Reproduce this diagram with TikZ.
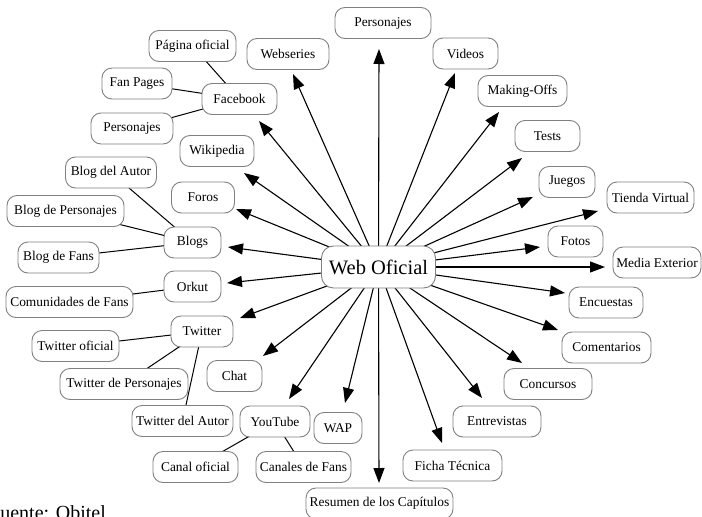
\documentclass[tikz,border=0pt]{standalone}
\usepackage{fontspec}
\setmainfont{Liberation Serif}
\usetikzlibrary{arrows.meta}
\pgfdeclarelayer{edges}
\pgfsetlayers{edges,main}
\tikzset{
  box/.style={draw=black!50, line width=0.9pt, fill=white, rounded corners=10pt,
    minimum height=31pt, inner sep=0pt, font=\fontsize{13.4}{16}\selectfont},
  bigbox/.style={box, minimum height=42pt, rounded corners=12pt, font=\fontsize{20.5}{24}\selectfont},
  arr/.style={line width=1.1pt, -{Triangle[length=15pt,width=11pt]}},
  sub/.style={line width=1pt}
}
\begin{document}
\begin{tikzpicture}[x=1pt,y=-1pt]
\useasboundingbox (0,0) rectangle (702,517);
\clip (0,0) rectangle (702,517);
% nodes
\node[bigbox, minimum width=114pt] (web) at (378.5,267) {Web Oficial};
\node[box, minimum width=96pt] (pers1) at (383,23) {Personajes};
\node[box, minimum width=82pt] (webs) at (288,54) {Webseries};
\node[box, minimum width=65pt] (videos) at (465.5,53.5) {Videos};
\node[box, minimum width=87pt] (pagina) at (192.5,46) {Página oficial};
\node[box, minimum width=70pt] (fanp) at (137,83.5) {Fan Pages};
\node[box, minimum width=75pt] (fb) at (239.5,99) {Facebook};
\node[box, minimum width=82pt] (pers2) at (132,128.5) {Personajes};
\node[box, minimum width=89pt] (making) at (522.5,91) {Making-Offs};
\node[box, minimum width=65pt] (tests) at (547.5,136) {Tests};
\node[box, minimum width=74pt] (wiki) at (217,151) {Wikipedia};
\node[box, minimum width=91pt] (blogautor) at (111,172.5) {Blog del Autor};
\node[box, minimum width=56pt] (juegos) at (567,182) {Juegos};
\node[box, minimum width=87pt] (tienda) at (650.5,197.5) {Tienda Virtual};
\node[box, minimum width=63pt] (foros) at (203,197.5) {Foros};
\node[box, minimum width=117pt] (blogpers) at (65.5,211) {Blog de Personajes};
\node[box, minimum width=57pt] (blogs) at (192.5,242.5) {Blogs};
\node[box, minimum width=81pt] (blogfans) at (58.5,257.5) {Blog de Fans};
\node[box, minimum width=55pt] (fotos) at (575.5,241.5) {Fotos};
\node[box, minimum width=88pt] (media) at (657,262.5) {Media Exterior};
\node[box, minimum width=57pt] (orkut) at (192.5,286.5) {Orkut};
\node[box, minimum width=127pt] (comun) at (69.5,302) {Comunidades de Fans};
\node[box, minimum width=74pt] (encuestas) at (606,302.5) {Encuestas};
\node[box, minimum width=62pt] (twitter) at (202,331.5) {Twitter};
\node[box, minimum width=89pt] (comentarios) at (606.5,347.5) {Comentarios};
\node[box, minimum width=87pt] (twof) at (75.5,346) {Twitter oficial};
\node[box, minimum width=55pt] (chat) at (234.5,376) {Chat};
\node[box, minimum width=128pt] (twpers) at (124,384) {Twitter de Personajes};
\node[box, minimum width=88pt] (concursos) at (548,384) {Concursos};
\node[box, minimum width=101pt] (twautor) at (182.5,421) {Twitter del Autor};
\node[box, minimum width=70pt] (youtube) at (275,421.5) {YouTube};
\node[box, minimum width=48pt] (wap) at (338,428) {WAP};
\node[box, minimum width=88pt] (entrevistas) at (497,421.5) {Entrevistas};
\node[box, minimum width=85pt] (canal) at (195.5,467) {Canal oficial};
\node[box, minimum width=95pt] (canales) at (303.5,467) {Canales de Fans};
\node[box, minimum width=99pt] (ficha) at (452.5,465.5) {Ficha Técnica};
\node[box, minimum width=147pt] (resumen) at (379.5,503.5) {Resumen de los Capítulos};
\node[anchor=base west, inner sep=0pt, font=\fontsize{20}{24}\selectfont] (fuente) at (-11,519) {Fuente: Obitel};
% arrow tips
\coordinate (a1) at (379,49);
\coordinate (a2) at (293,74);
\coordinate (a3) at (455,73);
\coordinate (a4) at (259,121);
\coordinate (a5) at (499,112);
\coordinate (a6) at (522,158);
\coordinate (a7) at (244,173);
\coordinate (a8) at (533,197);
\coordinate (a9) at (598,211);
\coordinate (a10) at (236,209);
\coordinate (a11) at (228,247);
\coordinate (a12) at (540,247);
\coordinate (a13) at (605,267);
\coordinate (a14) at (227,283);
\coordinate (a15) at (565,293);
\coordinate (a16) at (240,318);
\coordinate (a17) at (558,330);
\coordinate (a18) at (263,356);
\coordinate (a19) at (522,363);
\coordinate (a20) at (289,399);
\coordinate (a21) at (345,403);
\coordinate (a22) at (482,398);
\coordinate (a23) at (442,443);
\coordinate (a24) at (379,483);
\begin{pgfonlayer}{edges}
\foreach \t in {a1,a2,a3,a4,a5,a6,a7,a8,a9,a10,a11,a12,a13,a14,a15,a16,a17,a18,a19,a20,a21,a22,a23,a24}
  \draw[arr] (web.center) -- (\t);
\draw[sub] (fb.center) -- (pagina.center);
\draw[sub] (fb.center) -- (fanp.center);
\draw[sub] (fb.center) -- (pers2.center);
\draw[sub] (blogs.center) -- (blogautor.center);
\draw[sub] (blogs.center) -- (blogpers.center);
\draw[sub] (blogs.center) -- (blogfans.center);
\draw[sub] (orkut.center) -- (comun.center);
\draw[sub] (twitter.center) -- (twof.center);
\draw[sub] (twitter.center) -- (twpers.center);
\draw[sub] (twitter.center) -- (twautor.center);
\draw[sub] (youtube.center) -- (canal.center);
\draw[sub] (youtube.center) -- (canales.center);
\end{pgfonlayer}
\end{tikzpicture}
\end{document}
